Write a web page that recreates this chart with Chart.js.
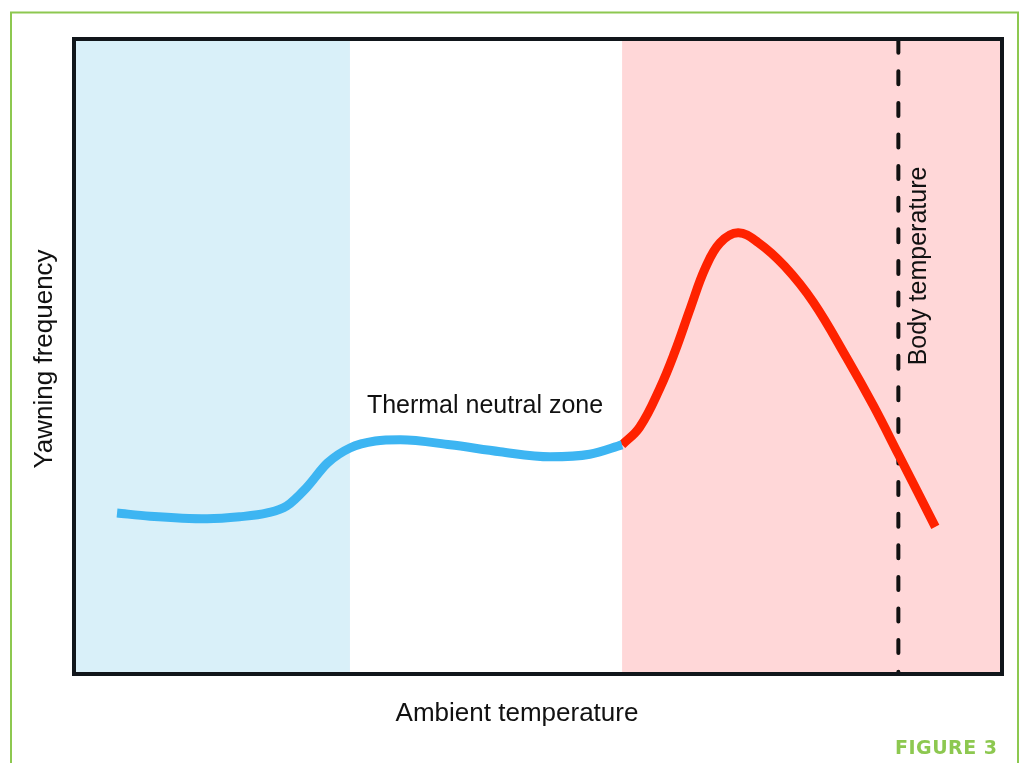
<!DOCTYPE html>
<html>
<head>
<meta charset="utf-8">
<script src="https://cdn.jsdelivr.net/npm/chart.js@4"></script>
<style>
html,body{margin:0;padding:0;background:#fff;}
#wrap{width:1022px;height:763px;position:relative;}
</style>
</head>
<body>
<div id="wrap"><canvas id="c" width="1022" height="763"></canvas></div>
<script>
// Curve (ambient temperature, yawning frequency) in arbitrary 0-100 units
const coldX = [4.44, 8.0, 14.2, 17.7, 20.7, 22.8, 25.0, 27.2, 29.65, 32.4, 35.1, 40.5, 45.9, 51.3, 55.6, 59.1];
const coldY = [25.2, 24.7, 24.3, 24.6, 25.2, 26.3, 29.3, 33.1, 35.5, 36.6, 36.8, 36.0, 34.9, 34.1, 34.5, 36.0];
const hotX = [59.1, 61.0, 63.2, 64.8, 66.5, 68.1, 69.7, 71.65, 73.8, 76.7, 79.8, 83.4, 86.3, 89.0, 93.0];
const hotY = [36.0, 38.8, 45.0, 50.7, 57.7, 64.0, 68.0, 69.6, 68.1, 64.3, 58.6, 49.8, 42.2, 34.5, 23.0];
// Zones along the x axis
const zoneStarts = [0, 29.65, 59.1];
const zoneEnds = [29.65, 59.1, 100];
const zoneNames = ['cold', 'neutral', 'hot'];
const bodyTempX = 89.0;
const labels = {x: 'Ambient temperature', y: 'Yawning frequency', zone: 'Thermal neutral zone', body: 'Body temperature', fig: 'FIGURE 3'};

const zoneColors = {cold: '#d9f0f9', neutral: '#ffffff', hot: '#ffd7d8'};
const toPts = (xs, ys) => xs.map((x, i) => ({x: x, y: ys[i]}));

const deco = {
  id: 'deco',
  beforeDatasetsDraw(chart) {
    const {ctx, chartArea: a, scales: {x, y}} = chart;
    ctx.save();
    zoneNames.forEach((n, i) => {
      const x0 = x.getPixelForValue(zoneStarts[i]);
      const x1 = x.getPixelForValue(zoneEnds[i]);
      ctx.fillStyle = zoneColors[n];
      ctx.fillRect(x0, a.top, x1 - x0, a.bottom - a.top);
    });
    // dashed body temperature line
    const bx = x.getPixelForValue(bodyTempX);
    ctx.strokeStyle = '#111';
    ctx.lineWidth = 4;
    ctx.lineCap = 'round';
    ctx.setLineDash([13, 18.6]);
    ctx.beginPath();
    ctx.moveTo(bx, a.top - 1.3);
    ctx.lineTo(bx, a.bottom);
    ctx.stroke();
    ctx.restore();
  },
  afterDraw(chart) {
    const {ctx, chartArea: a} = chart;
    ctx.save();
    // plot frame
    ctx.strokeStyle = '#11161b';
    ctx.lineWidth = 4;
    ctx.strokeRect(a.left - 2, a.top - 2, a.right - a.left + 4, a.bottom - a.top + 4);
    // green figure frame
    ctx.strokeStyle = '#8dc850';
    ctx.lineWidth = 2;
    ctx.beginPath();
    ctx.moveTo(11, 763);
    ctx.lineTo(11, 12.5);
    ctx.lineTo(1018, 12.5);
    ctx.lineTo(1018, 763);
    ctx.stroke();
    // texts
    ctx.fillStyle = '#111';
    ctx.textAlign = 'center';
    ctx.textBaseline = 'alphabetic';
    ctx.font = '26px "Liberation Sans", Arial, sans-serif';
    ctx.fillText(labels.x, 517, 721);
    ctx.save();
    ctx.translate(52, 359);
    ctx.rotate(-Math.PI / 2);
    ctx.fillText(labels.y, 0, 0);
    ctx.restore();
    ctx.font = '25px "Liberation Sans", Arial, sans-serif';
    ctx.fillText(labels.zone, 485, 413);
    ctx.save();
    ctx.translate(926, 266);
    ctx.rotate(-Math.PI / 2);
    ctx.fillText(labels.body, 0, 0);
    ctx.restore();
    ctx.fillStyle = '#8dc850';
    ctx.font = 'bold 19px "DejaVu Sans", sans-serif';
    ctx.letterSpacing = '0.5px';
    ctx.textAlign = 'left';
    ctx.fillText(labels.fig, 895, 754);
    ctx.restore();
  }
};

new Chart(document.getElementById('c'), {
  type: 'line',
  data: {
    datasets: [
      {data: toPts(coldX, coldY), borderColor: '#3db5f2', borderWidth: 9, pointRadius: 0, cubicInterpolationMode: 'monotone', fill: false},
      {data: toPts(hotX, hotY), borderColor: '#ff2200', borderWidth: 9, pointRadius: 0, tension: 0.4, fill: false}
    ]
  },
  options: {
    responsive: false,
    animation: false,
    layout: {padding: {left: 76, top: 41, right: 22, bottom: 91}},
    plugins: {legend: {display: false}, tooltip: {enabled: false}},
    scales: {
      x: {type: 'linear', min: 0, max: 100, display: false},
      y: {type: 'linear', min: 0, max: 100, display: false}
    }
  },
  plugins: [deco]
});
</script>
</body>
</html>
